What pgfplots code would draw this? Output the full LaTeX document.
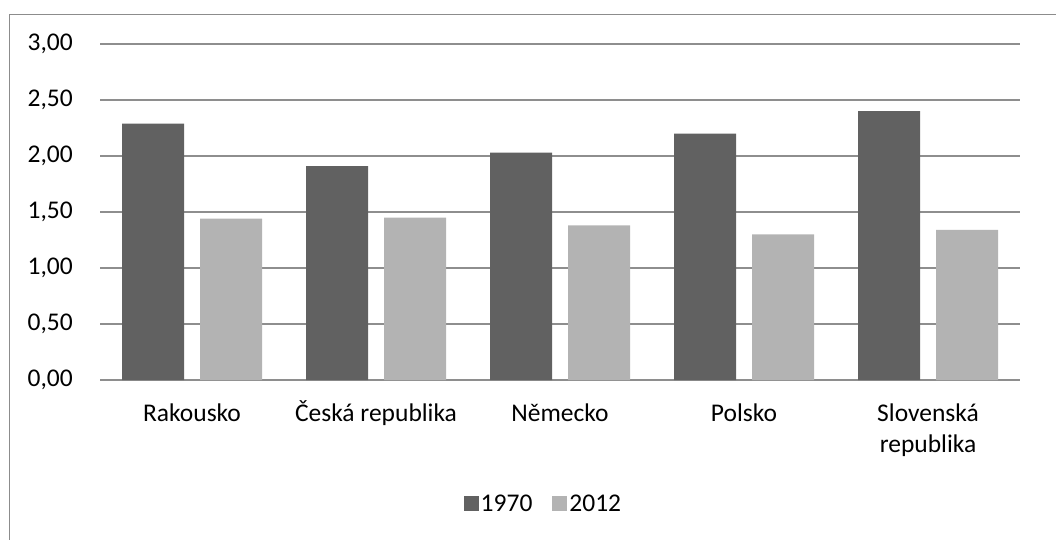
\documentclass[border=0pt]{standalone}
\usepackage{pgfplots}
\pgfplotsset{compat=1.18}
\usepackage{fontspec}
\setmainfont{Carlito}
\definecolor{dark}{HTML}{616161}
\definecolor{light}{HTML}{B3B3B3}
\definecolor{gridc}{HTML}{8E8E8E}
\definecolor{framec}{HTML}{8C8C8C}
\newcommand\chartfont{\fontsize{25.5}{31}\selectfont}
\begin{document}
\begin{tikzpicture}
\begin{axis}[
  at={(0pt,0pt)}, anchor=south west,
  scale only axis, width=920pt, height=336pt,
  ybar=16pt, bar width=62pt,
  xmin=-0.5, xmax=4.5, ymin=0, ymax=3,
  xtick={0,1,2,3,4},
  xticklabels={Rakousko, Česká republika, Německo, Polsko, {Slovenská\\republika}},
  ytick={0,0.5,1,1.5,2,2.5,3},
  axis line style={draw=none},
  major tick length=0pt,
  ymajorgrids, major grid style={gridc, line width=1.2pt},
  tick label style={font=\chartfont},
  typeset ticklabels with strut,
  /pgf/number format/assume math mode=true,
  yticklabel={\chartfont\pgfmathprintnumber[fixed, fixed zerofill, precision=2, use comma]{\tick}},
  yticklabel style={inner sep=0pt, anchor=east, xshift=-27pt},
  xticklabel style={inner sep=0pt, anchor=north, yshift=-20pt, align=center},
  legend style={at={(0.482,-0.369)}, anchor=center, draw=none, fill=none,
    font=\chartfont,
    legend columns=2, nodes={inner sep=2pt},
    /tikz/every even column/.append style={column sep=18pt}},
  legend image code/.code={\fill[#1] (0pt,-7.5pt) rectangle (15pt,7.5pt);},
]
\addplot[fill=dark, draw=none] coordinates {(0,2.29) (1,1.91) (2,2.03) (3,2.20) (4,2.40)};
\addplot[fill=light, draw=none] coordinates {(0,1.44) (1,1.45) (2,1.38) (3,1.30) (4,1.34)};
\legend{{\chartfont 1970},{\chartfont 2012}}
\end{axis}
\draw[framec, line width=1pt] (-90.5pt,-250pt) rectangle (1100pt,365.5pt);
\pgfresetboundingbox
\useasboundingbox (-100pt,-159pt) rectangle (956pt,380pt);
\end{tikzpicture}
\end{document}
